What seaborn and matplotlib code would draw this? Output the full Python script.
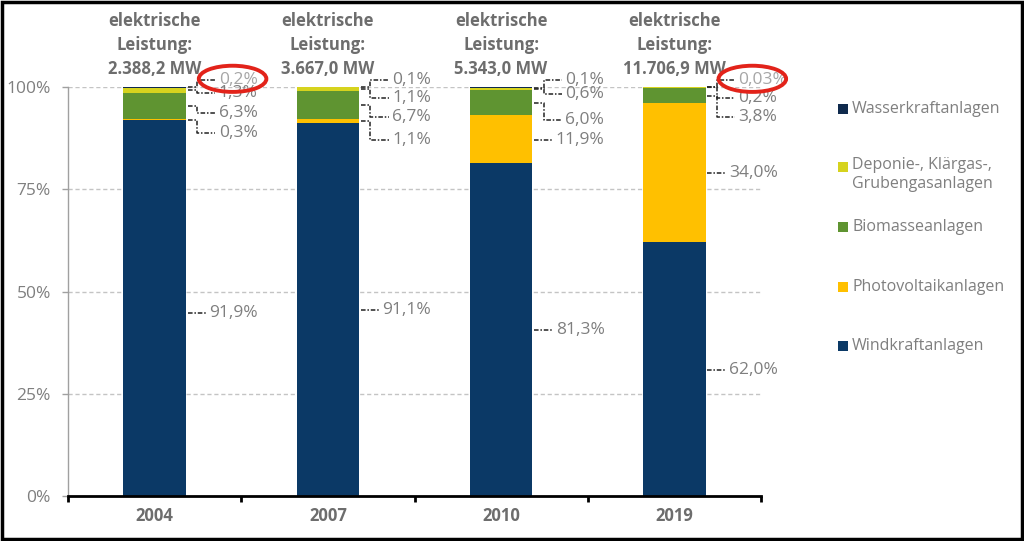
import numpy as np
import pandas as pd
import seaborn as sns
import matplotlib.pyplot as plt
from matplotlib.patches import Rectangle, Ellipse

# data, bottom to top of each stack
jahre = ["2004", "2007", "2010", "2019"]
leistung = ["2.388,2 MW", "3.667,0 MW", "5.343,0 MW", "11.706,9 MW"]
quellen = ["Windkraftanlagen", "Photovoltaikanlagen", "Biomasseanlagen",
           "Deponie-, Klärgas-, Grubengasanlagen", "Wasserkraftanlagen"]
wind = [91.9, 91.1, 81.3, 62.0]
pv = [0.3, 1.1, 11.9, 34.0]
bio = [6.3, 6.7, 6.0, 3.8]
deponie = [1.3, 1.1, 0.6, 0.2]
wasser = [0.2, 0.1, 0.1, 0.03]

farben = ["#0b3966", "#ffc000", "#5f9431", "#d6d31e", "#0f2a4d"]

# vertical positions of the value labels (in %), same order as quellen
label_y = [
    [44.7, 88.8, 93.6, 98.5, 101.7],
    [45.5, 87.0, 92.7, 97.3, 101.6],
    [40.6, 87.0, 91.9, 98.3, 101.8],
    [30.8, 79.0, 92.7, 97.3, 101.7],
]
# labels that are circled in red (year index, source index)
markiert = [(0, 4), (3, 4)]

werte = np.array([wind, pv, bio, deponie, wasser])  # shape (quellen, jahre)
df = pd.DataFrame(werte.T, columns=quellen)
df["Jahr"] = jahre
lang = df.melt(id_vars="Jahr", var_name="Quelle", value_name="Anteil")
lang["Quelle"] = pd.Categorical(lang["Quelle"], categories=quellen, ordered=True)
lang = lang.sort_values(["Jahr", "Quelle"])
lang["Kum"] = lang.groupby("Jahr")["Anteil"].cumsum()

sns.set_style("white")
plt.rcParams["font.family"] = ["Open Sans", "DejaVu Sans"]

fig = plt.figure(figsize=(10.24, 5.41), dpi=100)
ax = fig.add_axes([68 / 1024, 45 / 541, 693 / 1024, 409 / 541])

bar_w = 0.36
# draw the stacks from the top layer down so each one covers the rest
for q, c in reversed(list(zip(quellen, farben))):
    sub = lang[lang["Quelle"] == q]
    sns.barplot(data=sub, x="Jahr", y="Kum", order=jahre, color=c,
                saturation=1, width=bar_w, errorbar=None, linewidth=0, ax=ax)

ax.set_xlim(-0.5, 3.5)
ax.set_ylim(0, 100)
ax.set_xlabel("")
ax.set_ylabel("")
ax.set_yticks([0, 25, 50, 75, 100])
ax.set_yticklabels(["0%", "25%", "50%", "75%", "100%"])
ax.yaxis.grid(True, linestyle=(0, (3, 2)), color="#c4c4c4", linewidth=1)
ax.set_axisbelow(True)
ax.tick_params(axis="y", left=True, length=4.3, width=1, color="#a0a0a0",
               labelsize=12.5, labelcolor="#7f7f7f", pad=8)
ax.tick_params(axis="x", which="major", length=0, pad=8, labelsize=12,
               labelcolor="#6d6d6d")
for t in ax.get_xticklabels():
    t.set_fontweight("bold")
ax.set_xticks([-0.5, 0.5, 1.5, 2.5, 3.5], minor=True)
ax.tick_params(axis="x", which="minor", bottom=True, length=4.5, width=2,
               color="black")
for s in ["top", "right"]:
    ax.spines[s].set_visible(False)
ax.spines["left"].set_color("#a0a0a0")
ax.spines["left"].set_linewidth(1)
ax.spines["bottom"].set_color("black")
ax.spines["bottom"].set_linewidth(2)

def fmt(v):
    s = f"{v:.2f}" if v < 0.1 else f"{v:.1f}"
    return s.replace(".", ",") + "%"

halb = bar_w / 2
leader = dict(color="#222222", linewidth=1.1, linestyle=(0, (3, 1.2, 1, 1.2)),
              clip_on=False, zorder=4)
for i in range(len(jahre)):
    unten = 0.0
    for k in range(len(quellen)):
        v = werte[k, i]
        mitte = unten + v / 2
        unten += v
        ly = label_y[i][k]
        kante = i + halb
        if v >= 10:
            tx = i + 0.315
            ax.plot([kante + 0.01, tx - 0.02], [ly, ly], **leader)
        else:
            tx = i + 0.37
            knick = kante + 0.065
            ax.plot([kante + 0.01, knick, knick, tx - 0.02],
                    [mitte, mitte, ly, ly], **leader)
        farbe = "#a6a6a6" if (i, k) in markiert else "#7f7f7f"
        ax.text(tx, ly, fmt(v), ha="left", va="center", fontsize=12.5,
                color=farbe, clip_on=False, zorder=5)
    # headline above each bar
    ax.text(i, 110.3, "elektrische\nLeistung:\n" + leistung[i], ha="center",
            va="center", fontsize=12, fontweight="bold", color="#6d6d6d",
            linespacing=1.45, clip_on=False)

for i, k in markiert:
    ax.add_patch(Ellipse((i + 0.45, label_y[i][k] + 0.3), 0.39, 6.4,
                         fill=False, edgecolor="#e2231a", linewidth=2.8,
                         clip_on=False, zorder=6))

# legend on the right, top to bottom
leg_text = ["Wasserkraftanlagen", "Deponie-, Klärgas-,\nGrubengasanlagen",
            "Biomasseanlagen", "Photovoltaikanlagen", "Windkraftanlagen"]
leg_col = ["#0f2a4d", "#d6d31e", "#5f9431", "#ffc000", "#0b3966"]
leg_y = [109, 167, 227, 287, 346]
for t, c, y in zip(leg_text, leg_col, leg_y):
    fig.add_artist(Rectangle((838 / 1024, 1 - (y + 5) / 541), 10 / 1024, 10 / 541,
                             facecolor=c, edgecolor="none",
                             transform=fig.transFigure))
    if "\n" in t:
        fig.text(852 / 1024, 1 - (y - 10) / 541, t, ha="left", va="top",
                 fontsize=11.5, color="#7f7f7f", linespacing=1.25)
    else:
        fig.text(852 / 1024, 1 - y / 541, t, ha="left", va="center",
                 fontsize=11.5, color="#7f7f7f")

# frame round the whole picture
fig.add_artist(Rectangle((0.002, 0.003), 0.996, 0.993, fill=False,
                         edgecolor="black", linewidth=2.5,
                         transform=fig.transFigure))

plt.savefig("out.png", dpi=100)
